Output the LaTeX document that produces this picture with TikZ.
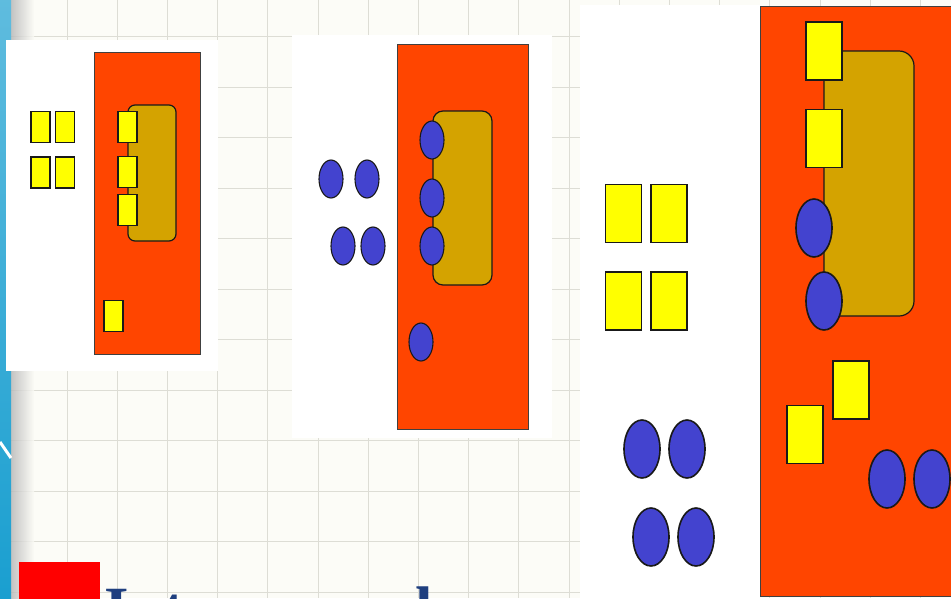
\documentclass[tikz,border=0pt]{standalone}
\usepackage{fontspec}
\newfontfamily\slidefont{Liberation Serif}
\usepackage{xcolor}
\usepackage{tikz}
\usetikzlibrary{shapes.geometric}
\definecolor{slideorange}{HTML}{FF4500}
\definecolor{pocket}{HTML}{D4A300}
\definecolor{chip}{HTML}{FFFF00}
\definecolor{bead}{HTML}{4343CF}
\definecolor{gridbg}{HTML}{FCFCF7}
\definecolor{gridln}{HTML}{DDDDD5}
\definecolor{edgeblue}{HTML}{1A9FD0}
\definecolor{titleblue}{HTML}{1F3F7F}

\begin{document}
\begin{tikzpicture}[x=1pt,y=-1pt,
    sq/.style={draw=black!90,line width=1.1pt,fill=chip,inner sep=0pt,outer sep=0pt,minimum width=19pt,minimum height=31pt},
    bigsq/.style={sq,line width=1.6pt,minimum width=36pt,minimum height=58pt},
    dot/.style={ellipse,draw=black!90,line width=1.1pt,fill=bead,inner sep=0pt,outer sep=0pt,minimum width=24pt,minimum height=38pt},
    bigdot/.style={dot,line width=1.6pt,minimum width=36pt,minimum height=58pt},
    bin/.style={fill=slideorange,draw=black!75,line width=1pt},
    pocketbox/.style={fill=pocket,draw=black!90,line width=1.2pt}]
  \useasboundingbox (0,0) rectangle (951,598);
  \clip (0,0) rectangle (951,598);
  % slide background with grid
  \fill[gridbg] (0,0) rectangle (951,598);
  \foreach \gx in {0,...,18} { \draw[gridln,line width=1pt] (67+50.2*\gx,0) -- (67+50.2*\gx,598); }
  \foreach \gy in {0,...,11} { \draw[gridln,line width=1pt] (10,36.5+50.5*\gy) -- (951,36.5+50.5*\gy); }
  % left edge band
  \shade[left color=black!30,right color=gridbg,opacity=0.8] (10,0) rectangle (34,598);
  \shade[top color=edgeblue!70!white,bottom color=edgeblue] (0,0) rectangle (11,598);
  \draw[white,line width=3pt] (0,442) -- (11,458);

  % first panel: squares only
  \fill[white] (6,40) rectangle (218,371);
  \draw[bin] (94,52) rectangle (200,354);
  \draw[pocketbox,rounded corners=7pt] (128,105) rectangle (176,241);
  \foreach \r/\y in {1/127,2/172.5} {
    \node[sq] (a\r l) at (40.5,\y) {};
    \node[sq] (a\r r) at (65,\y) {};
  }
  \foreach \r/\y in {1/127,2/172,3/210} { \node[sq] (ap\r) at (127.5,\y) {}; }
  \node[sq] (afree) at (113.5,316) {};

  % second panel: beads only
  \fill[white] (292,35) rectangle (552,438);
  \draw[bin] (397,44) rectangle (528,429);
  \draw[pocketbox,rounded corners=10pt] (433,111) rectangle (492,285);
  \node[dot] (b1l) at (331,179) {};
  \node[dot] (b1r) at (367,179) {};
  \node[dot] (b2l) at (343,246) {};
  \node[dot] (b2r) at (373,246) {};
  \foreach \r/\y in {1/140,2/198,3/246} { \node[dot] (bp\r) at (432,\y) {}; }
  \node[dot] (bfree) at (421,342) {};

  % third panel: both kinds compete
  \fill[white] (580,5) rectangle (760,598);
  \draw[bin] (760,6) rectangle (960,596);
  \draw[pocketbox,rounded corners=15pt] (824,51) rectangle (914,316);
  \node[bigsq] (c1l) at (623.5,213.5) {};
  \node[bigsq] (c1r) at (669,213.5) {};
  \node[bigsq] (c2l) at (623.5,301) {};
  \node[bigsq] (c2r) at (669,301) {};
  \node[bigdot] (d1l) at (642,449) {};
  \node[bigdot] (d1r) at (687,449) {};
  \node[bigdot] (d2l) at (651,537) {};
  \node[bigdot] (d2r) at (696,537) {};
  \node[bigsq] (cp1) at (824,51) {};
  \node[bigsq] (cp2) at (824,138.5) {};
  \node[bigdot] (dp1) at (814,228) {};
  \node[bigdot] (dp2) at (824,301) {};
  \node[bigsq] (cfree1) at (851,390) {};
  \node[bigsq] (cfree2) at (805,434.5) {};
  \node[bigdot] (dfree1) at (887,479) {};
  \node[bigdot] (dfree2) at (932,479) {};

  % bullet and heading, cut by the slide edge
  \node[fill=red,inner sep=0pt,minimum size=81pt,anchor=north west] (bullet) at (19,562) {};
  \node[anchor=base west,inner sep=0pt,text=titleblue,
        font=\slidefont\bfseries\fontsize{63}{70}\selectfont] (heading) at (104,630) {Intermuscular};
\end{tikzpicture}
\end{document}
